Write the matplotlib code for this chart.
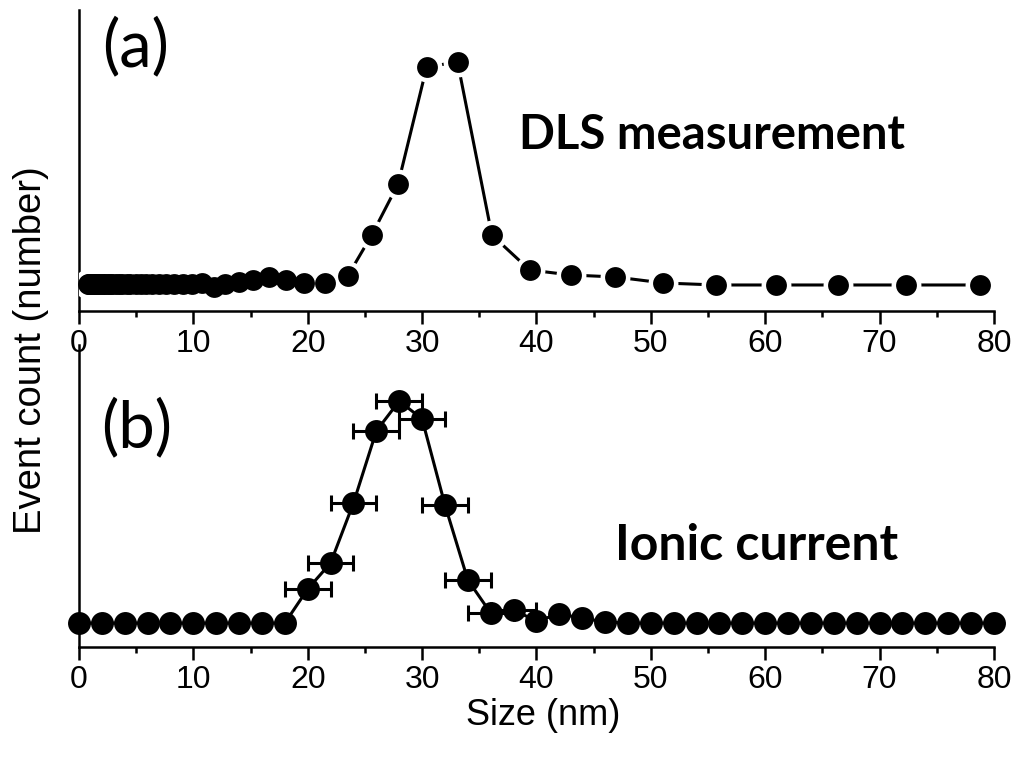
import matplotlib
matplotlib.use("Agg")
import matplotlib.pyplot as plt

# DLS size distribution (panel a), log-spaced size bins in nm
dls_size = [0.8, 0.9, 1.0, 1.1, 1.2, 1.3, 1.5, 1.6, 1.7, 1.9, 2.1, 2.3, 2.5,
            2.7, 2.9, 3.2, 3.5, 3.8, 4.2, 4.5, 5.0, 5.4, 5.9, 6.4, 7.0, 7.6,
            8.3, 9.1, 9.9, 10.8, 11.8, 12.8, 14.0, 15.2, 16.6, 18.1, 19.7,
            21.5, 23.5, 25.6, 27.9, 30.4, 33.1, 36.1, 39.4, 43.0, 46.9, 51.1,
            55.7, 60.9, 66.4, 72.3, 78.8]
dls_count = [27, 27, 27, 27, 27, 27, 27, 27, 27, 27, 27, 27, 27,
             27, 27, 27, 27, 27, 27, 27, 27, 27, 27, 27, 27, 27,
             27, 27, 27, 28, 24, 27, 29, 31, 34, 31, 28,
             28, 35, 76, 127, 244, 249, 76, 41, 36, 34, 28,
             26, 26, 26, 26, 26]

# ionic current size distribution (panel b)
ion_size = list(range(0, 82, 2))
ion_count = [0, 0, 0, 0, 0, 0, 0, 0, 0, 0, 34, 60, 120, 192, 222, 204, 118,
             43, 10, 13, 2, 9, 5, 1, 0, 0, 0, 0, 0, 0, 0, 0, 0, 0, 0, 0, 0,
             0, 0, 0, 0]
err_size = [20, 22, 24, 26, 28, 30, 32, 34, 36, 38]
err_count = [34, 60, 120, 192, 222, 204, 118, 43, 10, 13]
err_x = [2, 2, 2, 2, 2, 2, 2, 2, 2, 2]

plt.rcParams['font.family'] = ['Liberation Sans', 'DejaVu Sans']

fig = plt.figure(figsize=(10.24, 7.69), dpi=100)
ax1 = fig.add_axes([0.0771, 0.5956, 0.8936, 0.3914])
ax2 = fig.add_axes([0.0771, 0.1586, 0.8936, 0.3928])

for ax in (ax1, ax2):
    ax.patch.set_visible(False)
    for s in ('top', 'right'):
        ax.spines[s].set_visible(False)
    for s in ('left', 'bottom'):
        ax.spines[s].set_linewidth(1.8)
    ax.set_xlim(0, 80)
    ax.set_xticks(range(0, 90, 10))
    ax.set_xticks(range(5, 80, 10), minor=True)
    ax.set_yticks([])
    ax.tick_params(axis='x', which='major', direction='out', length=9,
                   width=1.8, labelsize=23, pad=4)
    ax.tick_params(axis='x', which='minor', direction='out', length=4.5,
                   width=1.8)

# panel a: line with a small gap around each symbol
ax1.plot(dls_size, dls_count, color='black', lw=2.2, zorder=2)
ax1.plot(dls_size, dls_count, 'o', ms=15.5, color='white', mec='white',
         mew=6, zorder=3)
ax1.plot(dls_size, dls_count, 'o', ms=15, color='black', mec='black',
         mew=0, zorder=4, clip_on=False)
ax1.set_ylim(0, 301)

# panel b
ax2.errorbar(err_size, err_count, xerr=err_x, fmt='none', ecolor='black',
             elinewidth=2.2, capsize=5.5, capthick=2.2, zorder=2)
ax2.plot(ion_size, ion_count, '-o', color='black', lw=2.2, ms=16.5,
         mew=0, zorder=3, clip_on=False)
ax2.set_ylim(-24, 278)

fig.text(0.132, 0.939, '(a)', fontsize=47, family=['Lato', 'DejaVu Sans'],
         ha='center', va='center')
fig.text(0.133, 0.443, '(b)', fontsize=47, family=['Lato', 'DejaVu Sans'],
         ha='center', va='center')
fig.text(0.695, 0.824, 'DLS measurement', fontsize=34, fontweight='bold',
         family=['Lato', 'DejaVu Sans'], ha='center', va='center')
fig.text(0.739, 0.291, 'Ionic current', fontsize=36, fontweight='bold',
         family=['Lato', 'DejaVu Sans'], ha='center', va='center')

fig.text(0.030, 0.545, 'Event count (number)', fontsize=27.5, rotation=90,
         ha='center', va='center')
fig.text(0.530, 0.070, 'Size (nm)', fontsize=26, ha='center', va='center')

fig.savefig('out.png', dpi=100)
